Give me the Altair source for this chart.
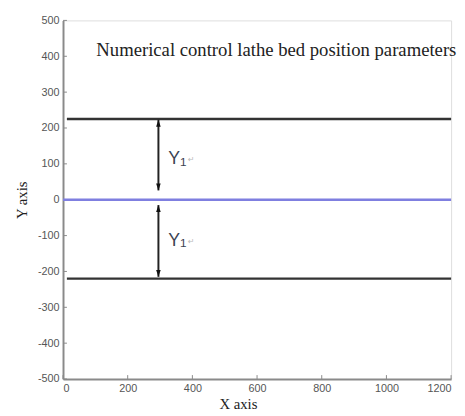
import altair as alt
import pandas as pd

# data
line_names = ["upper", "zero", "lower"]
line_x_start = [12, 0, 12]
line_x_end = [1200, 1200, 1200]
line_y = [225, 0, -220]
line_colors = ["#333333", "#7f7fe0", "#333333"]

arrow_x = [295, 295]
arrow_top = [223, -15]
arrow_bottom = [26, -215]

label_text = ["Y", "Y"]
label_sub = ["1", "1"]
label_mark = ["↵", "↵"]
label_x = [325, 325]
label_y = [114, -114]

title_text = "Numerical control lathe bed position parameters"
title_x = 103
title_y = 418

x_ticks = [0, 200, 400, 600, 800, 1000, 1200]
y_ticks = [-500, -400, -300, -200, -100, 0, 100, 200, 300, 400, 500]

W, H = 395, 365
xs = alt.Scale(domain=[0, 1200], nice=False)
ys = alt.Scale(domain=[-500, 500], nice=False)

lines_df = pd.DataFrame({"name": line_names, "x": line_x_start, "x2": line_x_end,
                         "y": line_y, "color": line_colors})
arrows_df = pd.DataFrame({"x": arrow_x, "top": arrow_top, "bottom": arrow_bottom})
labels_df = pd.DataFrame({"t": label_text, "s": label_sub, "m": label_mark,
                          "x": label_x, "y": label_y})
title_df = pd.DataFrame({"t": [title_text], "x": [title_x], "y": [title_y]})
xt_df = pd.DataFrame({"v": x_ticks})
yt_df = pd.DataFrame({"v": y_ticks})

common = dict(grid=False, tickSize=0, labelPadding=4, domainColor="#8a8a8a", domainWidth=2,
              labelColor="#555555", labelFont="Liberation Sans", labelFontSize=11,
              labelOverlap=False, labelExpr="datum.value + ''",
              titleFont="Liberation Serif", titleFontSize=15, titleFontWeight="normal",
              titleColor="#222222")
axis_x = alt.Axis(values=x_ticks, title="X axis", titlePadding=3, titleX=178, **common)
axis_y = alt.Axis(values=y_ticks, title="Y axis", titlePadding=8, **common)

X = lambda f: alt.X(f, scale=xs, axis=axis_x)
Y = lambda f: alt.Y(f, scale=ys, axis=axis_y)

base_axes = alt.Chart(xt_df).mark_rule(color="#8a8a8a", strokeWidth=1).encode(
    x=X("v:Q"), y=alt.value(H), y2=alt.value(H - 4))

yticks = alt.Chart(yt_df).mark_rule(color="#8a8a8a", strokeWidth=1).encode(
    y=Y("v:Q"), x=alt.value(0), x2=alt.value(4))

lines = alt.Chart(lines_df).mark_rule(strokeWidth=2.5).encode(
    x=X("x:Q"), x2="x2:Q", y=Y("y:Q"),
    color=alt.Color("color:N", scale=None))

shafts = alt.Chart(arrows_df).mark_rule(color="#222222", strokeWidth=2).encode(
    x=X("x:Q"), y=Y("top:Q"), y2="bottom:Q")

up_heads = alt.Chart(arrows_df).mark_point(
    shape="M0,0 L-0.33,1 L0.33,1 Z", filled=True, color="#111111", opacity=1, size=196
).encode(x=X("x:Q"), y=Y("top:Q"))

down_heads = alt.Chart(arrows_df).mark_point(
    shape="M0,0 L-0.33,-1 L0.33,-1 Z", filled=True, color="#111111", opacity=1, size=196
).encode(x=X("x:Q"), y=Y("bottom:Q"))

labels = alt.Chart(labels_df).mark_text(
    align="left", baseline="middle", font="Liberation Sans", fontSize=18, color="#3b4252"
).encode(x=X("x:Q"), y=Y("y:Q"), text="t:N")

subs = alt.Chart(labels_df).mark_text(
    align="left", baseline="middle", font="Liberation Sans", fontSize=12, color="#3b4252",
    dx=12, dy=3
).encode(x=X("x:Q"), y=Y("y:Q"), text="s:N")

marks = alt.Chart(labels_df).mark_text(
    align="left", baseline="middle", font="DejaVu Sans", fontSize=8, color="#b8b8b8",
    dx=20, dy=1
).encode(x=X("x:Q"), y=Y("y:Q"), text="m:N")

title = alt.Chart(title_df).mark_text(
    align="left", baseline="middle", font="Liberation Serif", fontSize=19, color="#222222"
).encode(x=X("x:Q"), y=Y("y:Q"), text="t:N")

chart = alt.layer(base_axes, yticks, lines, shafts, up_heads, down_heads,
                  labels, subs, marks, title).properties(
    width=W, height=H,
    autosize=alt.AutoSizeParams(type="none"),
    padding={"left": 56, "top": 9, "right": 6, "bottom": 34},
).configure_view(stroke=None).configure(background="white").configure_axis(labelOverlap=False)

chart.save("out.html", embed_options={"renderer": "svg", "actions": False})
